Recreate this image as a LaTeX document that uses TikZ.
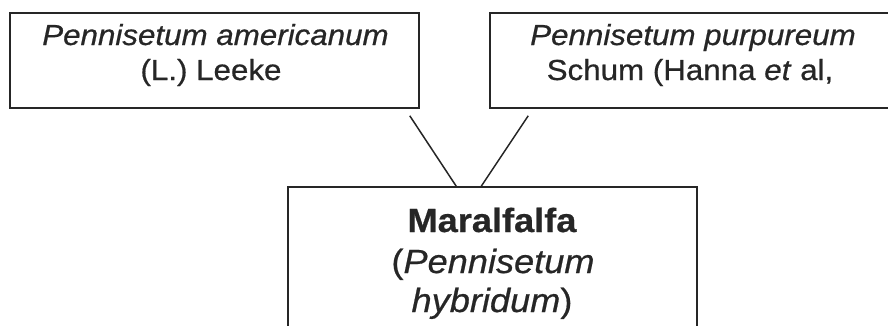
\documentclass[tikz,border=0pt]{standalone}
\usepackage{fontspec}
\setmainfont{Liberation Sans}[FakeStretch=1.08, FakeBold=0.6]
\usetikzlibrary{calc}
\definecolor{ink}{HTML}{262626}
\tikzset{
  boxnode/.style={draw=ink, line width=1.5pt, rectangle, inner sep=0pt},
  toptext/.style={anchor=base, text=ink, font=\fontsize{29}{34}\selectfont, inner sep=0pt},
  bottext/.style={anchor=base, text=ink, font=\fontsize{33.5}{40}\selectfont, inner sep=0pt},
  link/.style={draw=ink, line width=1.5pt}
}
\begin{document}
\begin{tikzpicture}[x=1pt,y=-1pt]
\useasboundingbox (0,0) rectangle (888,325);
\clip (0,0) rectangle (888,325);
\fill[white] (0,0) rectangle (888,325);
\node[boxnode, minimum width=409pt, minimum height=95pt] (L) at (214.5,60.5) {};
\node[boxnode, minimum width=407pt, minimum height=95pt] (R) at (693.5,60.5) {};
\node[boxnode, minimum width=409pt, minimum height=153pt] (M) at (492.5,263.5) {};
\node[toptext] (L1) at (215.5,45) {\itshape Pennisetum americanum};
\node[toptext] (L2) at (211,80) {(L.) Leeke};
\node[toptext] (R1) at (693,45) {\itshape Pennisetum purpureum};
\node[toptext] (R2) at (690,80) {Schum (Hanna \textit{et} al,};
\node[bottext] (M1) at (492,232) {\bfseries Maralfalfa};
\node[bottext] (M2) at (493,273) {(\textit{Pennisetum}};
\node[bottext] (M3) at (492,312) {\textit{hybridum})};
\coordinate (La) at ($(L.south east)+(-10,7)$);
\coordinate (Lb) at ($(M.north west)+(169,0)$);
\coordinate (Ra) at ($(R.south west)+(39,7)$);
\coordinate (Rb) at ($(M.north west)+(194,0)$);
\draw[link] (La) -- (Lb);
\draw[link] (Ra) -- (Rb);
\end{tikzpicture}
\end{document}
